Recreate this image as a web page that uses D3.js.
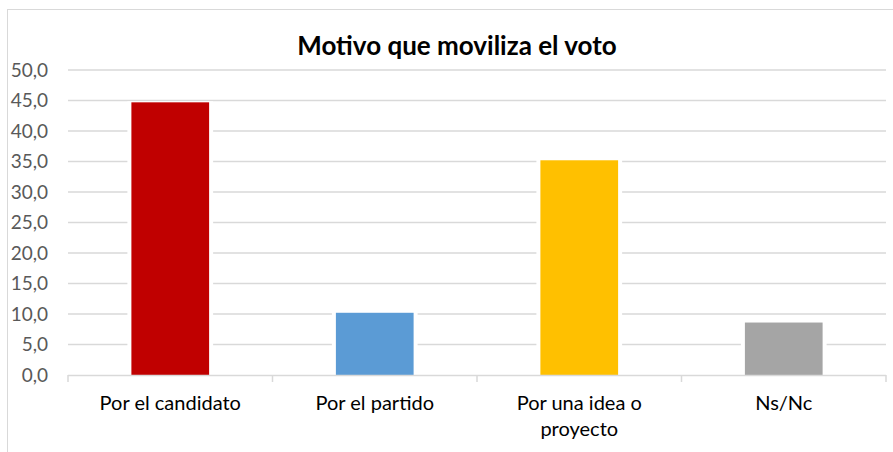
<!DOCTYPE html>
<html>
<head>
<meta charset="utf-8">
<script src="https://cdn.jsdelivr.net/npm/d3@7"></script>
<style>
  body { margin: 0; background: #fff; }
  svg { display: block; font-family: Lato, "Open Sans", sans-serif; }
</style>
</head>
<body>
<svg id="chart"></svg>
<script>
// Chart data
const categories = ["Por el candidato", "Por el partido", "Por una idea o proyecto", "Ns/Nc"];
const labelLines = [["Por el candidato"], ["Por el partido"], ["Por una idea o", "proyecto"], ["Ns/Nc"]];
const values = [44.7, 10.2, 35.2, 8.6];
const colors = ["#c00000", "#5b9bd5", "#ffc000", "#a5a5a5"];
const yTicks = [0, 5, 10, 15, 20, 25, 30, 35, 40, 45, 50];

const W = 893, H = 452;
const plot = { left: 68, right: 886, top: 70, bottom: 375 };

const svg = d3.select("#chart")
  .attr("width", W)
  .attr("height", H);

// outer chart border (only top and left are visible)
svg.append("rect")
  .attr("x", 7.5)
  .attr("y", 9.5)
  .attr("width", W + 20)
  .attr("height", H + 20)
  .attr("fill", "none")
  .attr("stroke", "#d9d9d9")
  .attr("stroke-width", 1);

const x = d3.scaleBand()
  .domain(categories)
  .range([plot.left, plot.right])
  .paddingInner(0.62)
  .paddingOuter(0.31);

const y = d3.scaleLinear()
  .domain([0, 50])
  .range([plot.bottom, plot.top]);

const fmt = v => d3.format(".1f")(v).replace(".", ",");

// gridlines
svg.append("g")
  .selectAll("line")
  .data(yTicks.filter(d => d > 0))
  .join("line")
  .attr("x1", plot.left)
  .attr("x2", plot.right)
  .attr("y1", d => y(d))
  .attr("y2", d => y(d))
  .attr("stroke", "#d9d9d9")
  .attr("stroke-width", 1.5);

// y axis labels
const yAxis = svg.append("g")
  .attr("transform", `translate(${plot.left},0)`)
  .call(d3.axisLeft(y).tickValues(yTicks).tickFormat(fmt).tickSize(0).tickPadding(20));
yAxis.select(".domain").remove();
yAxis.selectAll("text")
  .attr("fill", "#595959")
  .style("font-size", "19px")
  .style("font-family", "Lato, sans-serif");

// white halo around the bars, then bars
svg.append("g")
  .selectAll("rect")
  .data(values)
  .join("rect")
  .attr("x", (d, i) => x(categories[i]) - 4)
  .attr("y", d => y(d) - 1)
  .attr("width", x.bandwidth() + 8)
  .attr("height", d => y(0) - y(d) + 1)
  .attr("fill", "#fff");

svg.append("g")
  .selectAll("rect")
  .data(values)
  .join("rect")
  .attr("x", (d, i) => x(categories[i]))
  .attr("y", d => y(d))
  .attr("width", x.bandwidth())
  .attr("height", d => y(0) - y(d))
  .attr("fill", (d, i) => colors[i]);

// x axis line and ticks at category boundaries
const axisG = svg.append("g");
axisG.append("line")
  .attr("x1", plot.left)
  .attr("x2", plot.right)
  .attr("y1", plot.bottom + 0.5)
  .attr("y2", plot.bottom + 0.5)
  .attr("stroke", "#d9d9d9")
  .attr("stroke-width", 1.5);
const bounds = categories.map(c => x(c) - x.step() * x.paddingOuter()).concat([plot.right]);
axisG.selectAll("line.tick")
  .data(bounds)
  .join("line")
  .attr("class", "tick")
  .attr("x1", d => d)
  .attr("x2", d => d)
  .attr("y1", plot.bottom)
  .attr("y2", plot.bottom + 7)
  .attr("stroke", "#d9d9d9")
  .attr("stroke-width", 1.5);

// category labels
svg.append("g")
  .selectAll("text")
  .data(labelLines)
  .join("text")
  .attr("x", (d, i) => x(categories[i]) + x.bandwidth() / 2)
  .attr("y", 410)
  .attr("text-anchor", "middle")
  .attr("fill", "#000")
  .style("font-size", "20px")
  .selectAll("tspan")
  .data(d => d)
  .join("tspan")
  .attr("x", function() { return this.parentNode.getAttribute("x"); })
  .attr("dy", (d, i) => i === 0 ? 0 : 26)
  .text(d => d);

// title
svg.append("text")
  .attr("x", 457)
  .attr("y", 55)
  .attr("text-anchor", "middle")
  .attr("fill", "#000")
  .style("font-size", "26px")
  .style("font-weight", "bold")
  .text("Motivo que moviliza el voto");
</script>
</body>
</html>
